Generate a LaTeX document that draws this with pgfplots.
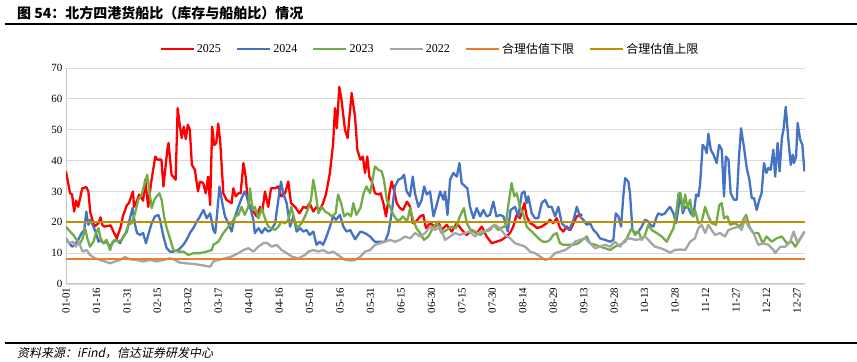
\documentclass[border=0pt]{standalone}
\usepackage{fontspec}
\setmainfont{Liberation Serif}
\newfontfamily\cjk{Noto Sans CJK SC}
\newfontfamily\cjksl[FakeSlant=0.2]{Noto Sans CJK SC}
\usepackage{pgfplots}
\pgfplotsset{compat=1.18}
\definecolor{c25}{HTML}{FF0000}
\definecolor{c24}{HTML}{4472C4}
\definecolor{c23}{HTML}{70AD47}
\definecolor{c22}{HTML}{A5A5A5}
\definecolor{clo}{HTML}{ED7D31}
\definecolor{chi}{HTML}{BF9000}
\definecolor{gridc}{HTML}{D9D9D9}
\begin{document}
\begin{tikzpicture}
\path[use as bounding box] (0,0) rectangle (857bp,362bp);
\node[anchor=west,inner sep=0pt] at (17bp,349bp) {\fontsize{14bp}{16bp}\selectfont\cjk\bfseries 图 54：北方四港货船比（库存与船舶比）情况};
\draw[line width=2bp] (5bp,337.5bp) -- (857bp,337.5bp);
\draw[line width=2bp] (5bp,19bp) -- (857bp,19bp);
\node[anchor=west,inner sep=0pt] at (17bp,9bp) {\fontsize{12bp}{14bp}\selectfont\cjksl 资料来源：iFind，信达证券研发中心};
\begin{axis}[
  at={(66bp,78bp)}, anchor=south west,
  scale only axis, width=739bp, height=216bp,
  xmin=0, xmax=364, ymin=0, ymax=70,
  ytick={0,10,...,70},
  xtick={0,15,30,45,60,75,90,105,120,135,150,165,180,195,210,225,240,255,270,285,300,315,330,345,360},
  xticklabels={01-01,01-16,01-31,02-15,03-02,03-17,04-01,04-16,05-01,05-16,05-31,06-15,06-30,07-15,07-30,08-14,08-29,09-13,09-28,10-13,10-28,11-12,11-27,12-12,12-27},
  xticklabel style={rotate=90, anchor=east, font=\fontsize{11bp}{12bp}\selectfont},
  yticklabel style={font=\fontsize{11bp}{12bp}\selectfont},
  /pgf/number format/assume math mode=true,
  axis lines*=left,
  axis line style={draw=gridc!80!gray, line width=1bp, -},
  major tick length=0pt,
  ymajorgrids, grid style={draw=gridc, line width=0.9bp},
  legend columns=6,
  legend style={at={(0.4926,1.088)}, anchor=center, draw=none, fill=none,
    font=\fontsize{12bp}{14bp}\selectfont, /tikz/every even column/.append style={column sep=13bp}},
  legend image code/.code={\draw[#1] (0bp,0bp) -- (33bp,0bp);},
  every axis plot/.append style={line width=2.3bp, line join=round, mark=none},
]
\addplot[c25] coordinates {(0,36.5) (2,29.4) (3,29) (4,23.5) (5,27) (6,25) (8,31) (10,31.4) (11,30) (12,23) (13,20.8) (14,18.6) (16,19.7) (17,21.6) (18,19) (19,18.6) (22,19) (23,17.5) (25,14.8) (27,18.6) (28,21.9) (30,25.6) (31,26.2) (33,30) (33.5,25) (35,27) (36,29) (38,27) (39,33.8) (40.5,25) (42,33.2) (44,41.3) (45,40.3) (47,40.3) (48,31.6) (50,44) (50.5,45.7) (52,35.4) (54,33.8) (55,57) (56,51.6) (57,47.3) (58,51) (59,47) (60,51.6) (61,50) (62,38.6) (63.5,37) (65,30) (66,33.2) (67.6,32.7) (68.8,29.4) (70,34.8) (71,25.6) (72,51) (73,45) (74,45.7) (75,52) (76,45.7) (77.5,29.4) (79,27.3) (81.6,26.2) (82.4,31) (83.6,28.4) (84.9,29.4) (86,29.4) (87.4,39.2) (88.5,34.8) (89.5,27.3) (90.6,25) (92.3,23.5) (93.9,21.9) (95.6,25) (96.7,23.5) (98,30) (99.6,25) (101,31) (103,31) (104.6,31.6) (106,28.4) (107.9,29.4) (109.5,33.2) (110.8,26.2) (112.8,25) (115,22.9) (116.9,25) (118.5,24.6) (120,26.2) (121.8,23.5) (123.4,25) (125,24) (126.6,26.2) (128,29) (130,36) (131.6,45.7) (132.5,57) (133.4,50.5) (134.6,63.9) (135.7,59.7) (137.4,50) (138.7,47.3) (140.7,61.9) (142.4,54) (143.5,43.5) (145,40.3) (146.2,41.3) (147.3,36) (148.4,41.3) (149.4,34.8) (150.6,33.2) (152.2,29.4) (154,29) (155,29.4) (156.3,26.2) (157.6,21.9) (159.3,29.4) (160.4,33.2) (161.7,30) (162.9,26.2) (164.5,24.6) (166,24) (168,26.7) (169.5,25) (170.8,19.7) (172.4,20.2) (174.4,21.9) (176,22.4) (177.3,18.1) (179.3,19.7) (181.8,18.6) (183.4,20.2) (185,17.5) (187.5,19.2) (190,17) (192.5,19.7) (195,17.5) (197.4,15.9) (199.8,17.5) (202.3,16.5) (204.8,18.6) (207.2,15.4) (209.7,13.2) (212,13.7) (214.6,14.3) (217,15.4) (218.7,16.5) (220.3,18.6) (222,22.4) (223.6,21.3) (225.8,26.2) (226.9,21.9) (228.6,19.7) (230.2,19.2) (231.9,18.1) (234.3,18.6) (236.8,19.7) (238.4,20.8) (240,19.7) (241.7,21.3) (243.3,18.1) (245,17) (246.6,18.6) (248.3,17.5) (250,19.7) (251.6,21.9) (253.2,22.4) (254.4,22.4)};
\addlegendentry{2025}
\addplot[c24] coordinates {(0,14.8) (1,13.7) (3,12.1) (4.4,12.7) (6,14.3) (7.7,16.5) (9,17.5) (10,23.5) (11,19.2) (12,20.8) (13.5,18.6) (14.8,16.5) (16,13.7) (17,14.3) (18.4,13.2) (20,13.7) (21.7,12.1) (23.3,13.7) (25,14.3) (26.6,13.2) (28.2,15.4) (30,17) (31.5,21.3) (32.8,24.6) (34,19.2) (35,16.5) (36.5,15.9) (38,16.5) (39.4,13.2) (40.5,15.9) (42.2,19.7) (43.8,21.9) (45.5,22.4) (46.3,20.8) (48,15.4) (49.6,11.6) (51.2,10.5) (52.9,10.5) (55.3,11) (57.8,12.7) (59.4,14.3) (61,16.5) (62.7,18.1) (64.4,20.2) (66,21.9) (67.7,24) (69.3,21.3) (71,22.9) (72.6,17.5) (73.5,16.5) (74.3,21.9) (75.6,31.6) (77,26.2) (78.3,21.9) (80,19.7) (81.6,17) (83,21.3) (84.9,25) (86.5,27.8) (88,30) (89,28.4) (90.6,25) (92.3,20.8) (93,16.5) (94.8,18.1) (96.4,16.5) (98,18.1) (99.6,17) (101,17.5) (103,19.7) (104.6,27.3) (105.9,33.2) (107,29.4) (108.7,26.2) (110.4,18.6) (112,21.9) (113.6,17) (115.3,18.1) (116.9,17) (118.5,17.5) (120,15.9) (121.8,17) (123.4,12.7) (125,13.7) (126.6,12.7) (128,14.8) (130,18.6) (131.6,21.9) (133,20.8) (134.9,22.4) (136.6,18.6) (138.2,17) (140,17.5) (142.4,14.5) (145,17) (147.3,16.5) (149.7,15.4) (152.2,13.7) (154.7,13.7) (157.1,13.7) (158.8,16.5) (160.4,22.9) (162,31.6) (163.7,33.8) (165.3,34.3) (166.5,35.4) (167.8,30) (169.4,28.4) (170.8,34.8) (171.9,29.4) (173.6,25) (175.2,27.3) (176.4,31.6) (177.7,29) (179.3,30) (181,21.9) (182.6,25.6) (184.3,30) (185.9,27.3) (186.7,30) (187.9,22.4) (189.2,33.8) (190.8,36) (192.5,34.8) (193.8,39.2) (194.9,32.7) (196.6,31.6) (197.7,31) (199,25) (200.7,21.3) (202.3,24.6) (204,21.9) (205.6,24) (207.2,21.9) (208.8,22.4) (210.5,26.7) (212,21.9) (213.8,22.4) (215.5,21.9) (217.6,17) (219,24) (221.2,25) (222.8,21.9) (224.5,29.4) (225.8,30) (226.9,26.2) (227.7,28.4) (229.4,22.9) (231,21.3) (232.6,21.3) (234.3,26.2) (236,27.3) (237.6,25) (239.2,25) (240.9,21.9) (242.5,25) (244.2,19.7) (245.8,18.6) (247.8,17.5) (250,20.8) (251.6,25) (253.2,21.9) (254.8,20.8) (256.5,19.2) (258.1,19.7) (259.8,17.5) (261.4,16.5) (263,14.8) (265.5,14.3) (268,13.7) (269.6,14.3) (270.8,22.9) (272.1,21.9) (273.4,18.6) (274.5,28.4) (275.4,34.3) (277,33.2) (277.8,29.4) (279,17.5) (280.3,16.5) (282,17) (283.6,18.6) (285.2,20.8) (286.9,20.2) (287.7,19.2) (289.3,18.6) (291,21.9) (291.8,22.9) (293.4,22.4) (295.1,22.9) (296.2,24) (297.5,25) (299.2,22.9) (300.5,19.7) (301.7,25) (302.5,29.4) (303.8,22.9) (305,25) (306.6,24.6) (307.7,22.9) (309,21.9) (310.4,29) (311.5,28.4) (312.3,32.2) (313.6,45.1) (314.8,44) (315.6,42.4) (316.4,48.7) (317.6,43.5) (318.9,41.9) (320.5,39.2) (321.7,45.1) (323,43.5) (324.1,28.4) (325,41.3) (326.3,40.3) (327.4,29.4) (329,27.3) (330.4,27.3) (331.5,41.3) (332.5,50.5) (334,44) (335.3,37.6) (336.6,33.8) (337.8,27.8) (338.9,27.8) (340.2,24) (341.5,27.3) (342.6,29.4) (343.8,39.2) (345,36) (346,37.6) (347.1,37) (348.4,43.5) (349.3,34.8) (350.5,45.7) (351.5,36.5) (352.6,47.3) (353.4,50) (354.5,57.4) (355.8,46.8) (357,38.6) (358,41.9) (358.6,39.2) (359.6,41.3) (360.4,52.2) (361.6,46.8) (362.7,45.1) (363.7,36.5)};
\addlegendentry{2024}
\addplot[c23] coordinates {(0,18.6) (2,17) (3.6,15.9) (5.3,14.3) (7,13.2) (8.2,14.8) (9.4,18.1) (10.5,14.8) (11.8,12.1) (13.5,13.7) (14.8,16.5) (16,18.1) (17,14.8) (18.4,13.2) (20,14.3) (21.7,11) (23,13.7) (24,14.3) (25.8,13.7) (27.4,14.3) (29,15.9) (30.7,19.2) (32.3,19.7) (34,22.9) (35.6,27.3) (37.3,29) (39,33.2) (40,35.4) (41,30.5) (42.2,24.6) (43.5,27.3) (44.7,28.4) (46,29.4) (47.1,27.3) (48.3,21.9) (49.6,18.1) (51.2,14.8) (52.9,11) (55.3,10.5) (57.8,10.5) (60.3,9.4) (62.7,10) (66,10) (69.3,10.5) (71.8,11) (72.6,12.7) (75,13.7) (77.5,16.5) (80,18.6) (81.6,19.7) (83.3,21.9) (84.9,22.4) (86.5,25) (88,22.4) (89.8,25) (90.6,31) (91.9,24) (93,25) (94.8,21.3) (96.4,24.6) (98,21.3) (99.6,18.6) (101,18.1) (103,17.5) (104.6,18.6) (106,20.2) (107.9,19.7) (109.5,20.8) (111,25) (112.5,20.8) (114,18.1) (116,19.7) (117.7,21.9) (119.4,24.6) (120.7,27.3) (121.8,33.8) (123,29.4) (124.3,22.9) (126,25) (127.6,23.5) (129.2,22.9) (130.9,21.9) (132.8,22.9) (134,29) (135.5,26.2) (137,21.9) (138.7,22.9) (140.4,21.9) (141.5,26.2) (143,22.4) (145,24.6) (146.6,29.4) (148,31.6) (149.8,29.4) (151.4,35.4) (152.2,38.1) (153.9,37) (155.5,36.5) (156.6,33.8) (158,27.3) (159.6,25) (161.3,22.4) (162.9,20.8) (164.5,20.8) (166,21.9) (168,20.2) (169.5,24.6) (171,20.8) (172.6,18.1) (174.4,16.5) (176.3,14.3) (178.5,15.4) (181,18.6) (182.9,19.7) (185,16.5) (187.5,17.5) (190,18.6) (192.1,18.1) (194,21.9) (196,24.6) (197.4,19.7) (199.3,17.5) (201.5,17) (204,15.9) (206.4,17) (208.8,17.5) (210.8,19.2) (212.9,17.5) (215.6,18.6) (216.5,18.6) (218,26.2) (219.5,32.7) (220.8,28.4) (222,29.4) (223.6,25) (225.3,22.4) (226.9,18.6) (228.6,17.5) (230.2,16.5) (231.9,15.4) (233.5,14.3) (235.1,13.7) (236.8,13.7) (238.4,14.3) (240,15.9) (241.7,16.5) (243.3,13.2) (245,12.7) (247.4,12.7) (250,12.7) (252.4,13.2) (254.3,14.3) (256.5,15.4) (258.1,13.2) (260.6,12.7) (263,12.1) (265.5,11.6) (268,11) (270.4,12.1) (272.9,12.7) (275.4,13.7) (277,15.9) (278.6,18.1) (280.3,15.9) (282,17) (283.6,14.3) (285.2,15.9) (286.9,19.2) (288.5,17.5) (291,16.5) (293.4,15.4) (295.9,13.7) (297.5,15.9) (299.2,18.1) (300.5,22.9) (301.7,29.4) (302.8,29.4) (303.8,24) (305,29) (306.1,24.6) (307.4,27.3) (308.7,21.9) (309.8,24) (311.5,19.7) (313.1,20.2) (314.8,25) (316.4,21.9) (318,19.7) (320.2,19.2) (321.8,25.6) (323,26.2) (324.1,21.3) (325.8,21.9) (327.1,19.2) (329.6,19.7) (332,18.6) (334,21.3) (335,22.4) (336.6,18.6) (338.6,16.5) (341,16.5) (343.2,13.2) (345,15.4) (347.6,13.7) (350,14.8) (352.6,15.4) (355.1,13.2) (357.5,13.7) (359.2,12.1) (360.8,13.7) (362.4,15.4) (363.7,17)};
\addlegendentry{2023}
\addplot[c22] coordinates {(0,14.8) (1.6,13.2) (3.3,13.7) (4.9,12.1) (6.2,13.7) (8.2,10.5) (10.2,11) (11.8,9.4) (14.3,8.3) (16.7,7.8) (19.2,7.3) (21.7,6.7) (24.1,7.3) (26.6,7.8) (29,8.7) (31.5,8) (34.8,7.8) (38,7.3) (41.4,7.8) (44.7,7.3) (48,7.8) (51.2,8.3) (53.7,7.8) (56.2,6.9) (59.4,6.7) (62.7,6.5) (66,6.2) (69.3,5.8) (71,5.6) (72.6,7.3) (75,7.8) (78.3,8.3) (81.6,8.9) (84.9,10) (87.4,11) (89.8,11.6) (92.3,10.5) (94.8,12.1) (97.2,13.2) (98.8,13.4) (101.3,12.1) (103.8,12.7) (106.2,11) (108.7,10) (111.2,8.9) (114.5,8.3) (117.7,9.4) (119.4,10.5) (121.8,11) (124.3,10.5) (126.8,11) (129.2,10) (131.6,10.5) (134,9.4) (137.4,7.8) (140.7,7.6) (142.4,7.8) (145,8.9) (147.3,10.5) (149.8,11) (152.2,12.7) (154.7,13.2) (157.1,13.7) (159.6,14.3) (162,13.7) (164.5,14.3) (167,15.4) (169.5,14.8) (172,16.5) (174.4,15.4) (176.9,16.5) (179.3,18.6) (181.8,17.5) (184.2,18.6) (186.7,14.3) (189.2,15.4) (191.6,16.5) (194,15.9) (196.6,16.5) (199,17) (201.5,15.4) (204,17) (206.4,17) (208.8,18.1) (211.3,19.2) (213.8,18) (216.3,15.9) (218.7,14.8) (221.2,13.2) (223.6,12.7) (226.1,12.1) (228.6,10.5) (231,10) (233.5,8.9) (236,7.8) (238.4,8.3) (240.9,10) (243.3,10.5) (245.8,11) (248.3,12.1) (250.7,13.7) (253.2,14.3) (255.7,14.8) (258.1,13.2) (260.6,11.6) (263,12.1) (265.5,12.7) (268,12.1) (270.4,13.7) (272.9,12.1) (275.4,14.3) (277.8,14.8) (280.3,14.3) (282.8,14.5) (285.2,15.4) (287.7,13.7) (290.1,12.1) (292.9,11.6) (295.1,11) (297.5,10.2) (300,11) (302.5,11.2) (305,11) (307.4,13.7) (309.8,14.8) (311.5,18.1) (313.1,19.2) (314.8,16.5) (316.4,19.2) (318,17.5) (319.7,15.9) (322.1,16.5) (324.6,15.4) (326.3,17.5) (328.7,18.1) (331.2,18.6) (332.8,17.5) (334.5,21.3) (336.1,18.6) (338.6,16.5) (341,12.7) (343.5,13.2) (346,12.7) (348.5,11) (349.3,10) (351.8,12.1) (354.3,12.1) (356.7,13.7) (358.4,17) (360,13.7) (361.7,14.8) (363.7,17)};
\addlegendentry{2022}
\addplot[clo] coordinates {(0,8) (364,8)};
\addlegendentry{\cjk 合理估值下限}
\addplot[chi] coordinates {(0,20) (364,20)};
\addlegendentry{\cjk 合理估值上限}
\end{axis}
\end{tikzpicture}
\end{document}
